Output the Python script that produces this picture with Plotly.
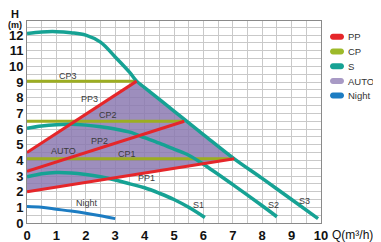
import plotly.graph_objects as go

# ---- data ----
q_s3 = [0, 0.5, 1, 1.5, 2, 2.5, 3, 3.5, 3.73, 4, 5, 6, 7.05, 8, 9, 9.9]
h_s3 = [12.1, 12.2, 12.22, 12.15, 12.0, 11.55, 10.6, 9.6, 9.06, 8.65, 7.15, 5.65, 4.1, 2.85, 1.5, 0.28]
q_s2 = [0, 0.5, 1, 1.5, 2, 2.5, 3, 3.5, 4, 4.5, 5, 5.5, 6, 7, 8, 8.5]
h_s2 = [6.05, 6.2, 6.28, 6.3, 6.25, 6.15, 6.0, 5.8, 5.45, 5.1, 4.72, 4.33, 3.75, 2.45, 1.1, 0.4]
q_s1 = [0, 0.5, 1, 1.5, 2, 2.5, 3, 3.5, 4, 4.5, 5, 5.5, 6.05]
h_s1 = [2.95, 3.15, 3.23, 3.2, 3.1, 2.95, 2.75, 2.5, 2.25, 1.9, 1.5, 1.0, 0.35]
q_night = [0, 0.5, 1, 1.5, 2, 2.5, 3]
h_night = [1.05, 1.0, 0.88, 0.76, 0.62, 0.46, 0.28]
pp_start = [2.0, 3.3, 4.5]          # PP1, PP2, PP3 head at Q=0
pp_end_q = [7.05, 5.35, 3.73]
pp_end_h = [4.1, 6.5, 9.06]
cp_h = [4.1, 6.5, 9.06]             # CP1, CP2, CP3
cp_end_q = [7.0, 5.3, 3.7]
x_ticks = list(range(0, 11))
y_ticks = list(range(0, 13))
legend_names = ["PP", "CP", "S", "AUTO", "Night"]

C_PP = "#e5262a"
C_CP = "#9cad22"
C_S = "#16a294"
C_AUTO = "rgba(138,120,176,0.84)"
C_NIGHT = "#1c7cc2"

fig = go.Figure()

# AUTO region: PP1 -> S3 -> PP3
i1 = q_s3.index(pp_end_q[0])
i3 = q_s3.index(pp_end_q[2])
auto_x = [0, pp_end_q[0]] + q_s3[i1:i3 - 1:-1] + [0]
auto_y = [pp_start[0], pp_end_h[0]] + h_s3[i1:i3 - 1:-1] + [pp_start[2]]
fig.add_trace(go.Scatter(x=auto_x, y=auto_y, fill="toself", fillcolor=C_AUTO,
                         line=dict(width=0), mode="lines", hoverinfo="skip"))

for h, qe in zip(cp_h, cp_end_q):
    fig.add_trace(go.Scatter(x=[0, qe], y=[h, h], mode="lines",
                             line=dict(color=C_CP, width=3)))

for qs, hs in [(q_s1, h_s1), (q_s2, h_s2), (q_s3, h_s3)]:
    fig.add_trace(go.Scatter(x=qs, y=hs, mode="lines", line_shape="spline",
                             line=dict(color=C_S, width=3.5)))

for hs, qe, he in zip(pp_start, pp_end_q, pp_end_h):
    fig.add_trace(go.Scatter(x=[0, qe], y=[hs, he], mode="lines",
                             line=dict(color=C_PP, width=3)))

fig.add_trace(go.Scatter(x=q_night, y=h_night, mode="lines", line_shape="spline",
                         line=dict(color=C_NIGHT, width=3)))

# in-plot labels
lab_font = dict(family="Liberation Sans, Arial", size=9, color="#3a3a3a")
labels = [("CP3", 1.4, 9.4), ("PP3", 2.14, 7.9), ("CP2", 2.76, 6.9),
          ("PP2", 2.45, 5.25), ("AUTO", 1.23, 4.6), ("CP1", 3.4, 4.4),
          ("PP1", 4.07, 2.85), ("Night", 2.03, 1.25), ("S1", 5.83, 1.15),
          ("S2", 8.38, 1.15), ("S3", 9.43, 1.4)]
for t, x, y in labels:
    fig.add_annotation(x=x, y=y, text=t, showarrow=False, font=lab_font, borderpad=0,
                       xanchor="center", yanchor="middle")

# page body has an 8px margin: figure is offset by OFF px in the window
OFF = 8
W, H = 381 - OFF, 242 - OFF
L, R, T, B = 27 - OFF, 321 - OFF, 21 - OFF, 223 - OFF   # plot area in figure px
def px(xp):   # xp: window pixel
    return (xp - OFF - L) / (R - L)
def py(yp):
    return (B - (yp - OFF)) / (B - T)

# axis titles
fig.add_annotation(xref="paper", yref="paper", x=px(15), y=py(14), text="<b>H</b>",
                   showarrow=False, borderpad=0, xanchor="center", yanchor="middle",
                   font=dict(family="Liberation Sans, Arial", size=11, color="#111"))
fig.add_annotation(xref="paper", yref="paper", x=px(15), y=py(24.5), text="<b>(m)</b>",
                   showarrow=False, borderpad=0, xanchor="center", yanchor="middle",
                   font=dict(family="Liberation Sans, Arial", size=9, color="#111"))
fig.add_annotation(xref="paper", yref="paper", x=px(331), y=py(235), xanchor="left",
                   yanchor="middle", text="Q(m³/h)", showarrow=False, borderpad=0,
                   font=dict(family="Liberation Sans, Arial", size=12, color="#111"))

# manual legend
leg_colors = [C_PP, "#9dba2a", C_S, "#a89ac5", C_NIGHT]
leg_y = [36.7, 51.5, 66.3, 81, 95.5]
for name, col, yc in zip(legend_names, leg_colors, leg_y):
    x0, x1, r = 330, 344, 3
    path = (f"M {px(x0 + r)},{py(yc - r)} L {px(x1 - r)},{py(yc - r)} "
            f"C {px(x1 + 1)},{py(yc - r)} {px(x1 + 1)},{py(yc + r)} {px(x1 - r)},{py(yc + r)} "
            f"L {px(x0 + r)},{py(yc + r)} "
            f"C {px(x0 - 1)},{py(yc + r)} {px(x0 - 1)},{py(yc - r)} {px(x0 + r)},{py(yc - r)} Z")
    fig.add_shape(type="path", xref="paper", yref="paper", path=path,
                  fillcolor=col, line=dict(width=0))
    fig.add_annotation(xref="paper", yref="paper", x=px(347), y=py(yc), xanchor="left",
                       yanchor="middle", text=name, showarrow=False, borderpad=0,
                       font=dict(family="Liberation Sans, Arial", size=9.5, color="#333"))

axis_common = dict(showgrid=True, gridcolor="#c9c9c9", gridwidth=1, zeroline=False,
                   showline=True, mirror=True, linecolor="#8a8a8a", linewidth=1,
                   ticks="", automargin=False,
                   tickfont=dict(family="Liberation Sans, Arial", size=13, color="#111"),
                   minor=dict(showgrid=True, gridcolor="#c9c9c9", gridwidth=1, dtick=0.5))
fig.update_xaxes(range=[0, 10], tickvals=x_ticks, ticktext=[f"<b>{v}</b>" for v in x_ticks],
                 **axis_common)
fig.update_yaxes(range=[0, 12.9], tickvals=y_ticks, ticktext=[f"<b>{v}</b>" for v in y_ticks],
                 **axis_common)

fig.update_layout(width=W, height=H, margin=dict(l=L, r=W - R, t=T, b=H - B),
                  plot_bgcolor="white", paper_bgcolor="white", showlegend=False)

fig.write_html("out.html")
